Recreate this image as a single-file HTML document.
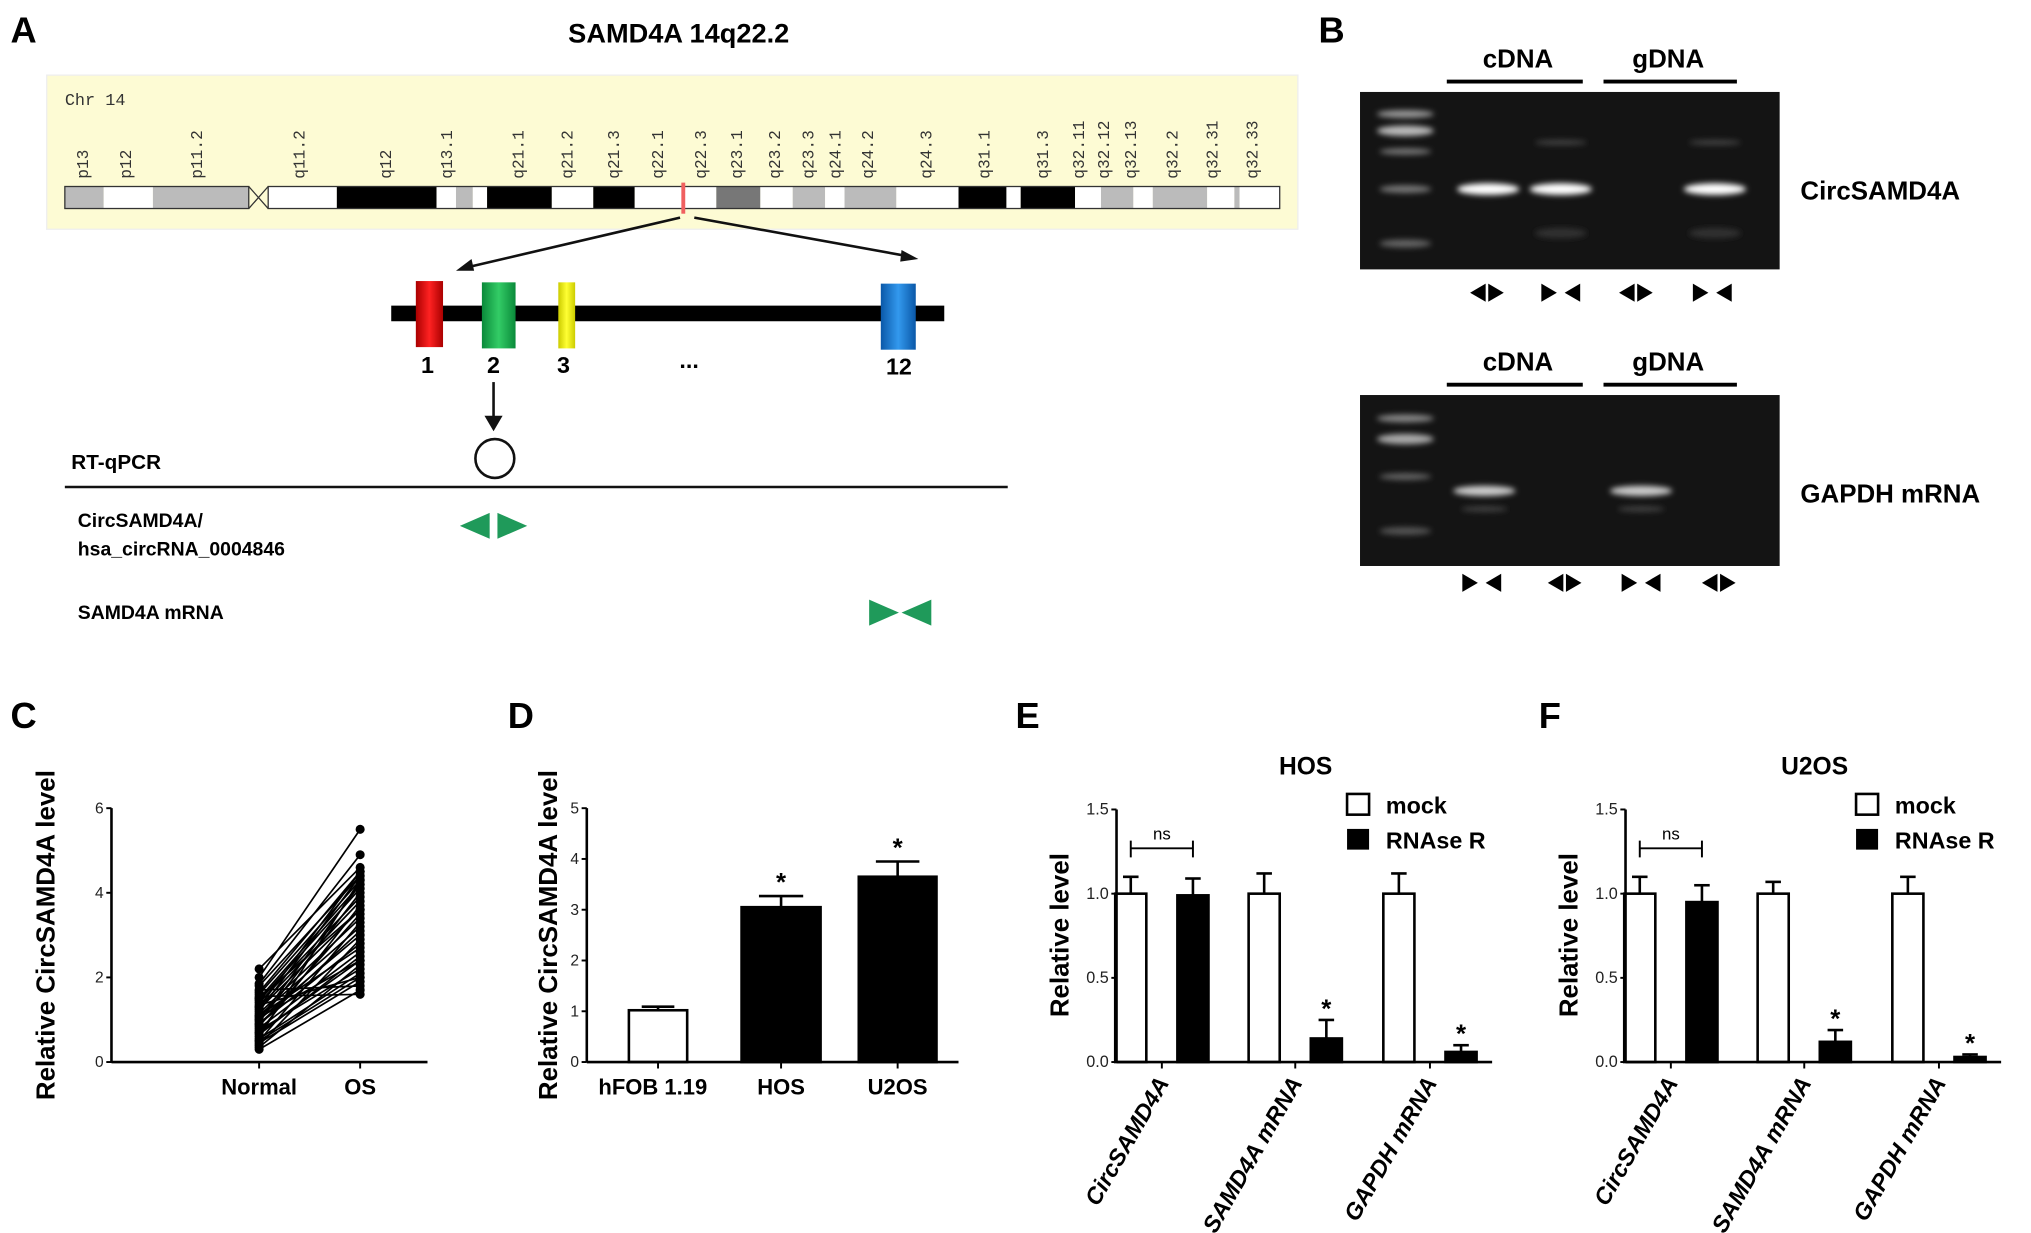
<!DOCTYPE html>
<html><head><meta charset="utf-8">
<style>
html,body{margin:0;padding:0;background:#fff;}
svg{display:block;}
text{font-family:"Liberation Sans",Arial,sans-serif;}
.b{font-weight:bold;}
.mono{font-family:"Liberation Mono",monospace;}
</style></head>
<body>
<svg id="fig" width="2031" height="1233" viewBox="0 0 1568 952" xmlns="http://www.w3.org/2000/svg">
<defs>
<filter id="blur" x="-20%" y="-100%" width="140%" height="300%"><feGaussianBlur stdDeviation="2.2"/></filter>
<linearGradient id="gRed" x1="0" x2="1"><stop offset="0" stop-color="#a00"/><stop offset=".5" stop-color="#f22"/><stop offset="1" stop-color="#a00"/></linearGradient>
<linearGradient id="gGreen" x1="0" x2="1"><stop offset="0" stop-color="#0a8a3a"/><stop offset=".5" stop-color="#3c6"/><stop offset="1" stop-color="#0a8a3a"/></linearGradient>
<linearGradient id="gYel" x1="0" x2="1"><stop offset="0" stop-color="#cc0"/><stop offset=".5" stop-color="#ff3"/><stop offset="1" stop-color="#cc0"/></linearGradient>
<linearGradient id="gBlue" x1="0" x2="1"><stop offset="0" stop-color="#0a58a8"/><stop offset=".5" stop-color="#39e"/><stop offset="1" stop-color="#0a58a8"/></linearGradient>
</defs>

<!-- Panel A -->
<text x="8" y="33" class="b" font-size="28">A</text>
<text x="524" y="33" class="b" font-size="21" text-anchor="middle">SAMD4A  14q22.2</text>
<rect x="36" y="58" width="966" height="119" fill="#fdfbd4" stroke="#eee"/>
<text x="50" y="81" class="mono" font-size="13" fill="#333">Chr 14</text>
<g id="chrom"></g>
<line x1="525" y1="168" x2="358" y2="207" stroke="#111" stroke-width="2"/>
<polygon points="352,209 364,200 366,209" fill="#111"/>
<line x1="536" y1="168" x2="702" y2="198" stroke="#111" stroke-width="2"/>
<polygon points="709,200 696,193 695,202" fill="#111"/>
<line x1="302" y1="242" x2="729" y2="242" stroke="#000" stroke-width="12"/>
<rect x="321" y="217" width="21" height="51" fill="url(#gRed)"/>
<rect x="372" y="218" width="26" height="51" fill="url(#gGreen)"/>
<rect x="431" y="218" width="13" height="51" fill="url(#gYel)"/>
<rect x="680" y="219" width="27" height="51" fill="url(#gBlue)"/>
<g class="b" font-size="18" text-anchor="middle">
<text x="330" y="288">1</text>
<text x="381" y="288">2</text>
<text x="435" y="288">3</text>
<text x="532" y="284">...</text>
<text x="694" y="289">12</text>
</g>
<line x1="381" y1="295" x2="381" y2="326" stroke="#111" stroke-width="2"/>
<polygon points="374,321 381,333 388,321" fill="#111"/>
<circle cx="382" cy="354" r="15" fill="none" stroke="#111" stroke-width="2"/>
<text x="55" y="362" class="b" font-size="16">RT-qPCR</text>
<line x1="50" y1="376" x2="778" y2="376" stroke="#111" stroke-width="2"/>
<text x="60" y="407" class="b" font-size="15">CircSAMD4A/</text>
<text x="60" y="429" class="b" font-size="15">hsa_circRNA_0004846</text>
<polygon points="355,406 378,396 378,416" fill="#1f9a5a"/>
<polygon points="407,406 384,396 384,416" fill="#1f9a5a"/>
<text x="60" y="478" class="b" font-size="15">SAMD4A mRNA</text>
<polygon points="694,473 671,463 671,483" fill="#1f9a5a"/>
<polygon points="696,473 719,463 719,483" fill="#1f9a5a"/>

<!-- Panel B -->
<text x="1018" y="33" class="b" font-size="28">B</text>
<g id="gels"></g>
<text x="1390" y="154" class="b" font-size="20">CircSAMD4A</text>
<text x="1390" y="388" class="b" font-size="20">GAPDH mRNA</text>

<!-- Panel letters C-F -->
<text x="8" y="562" class="b" font-size="28">C</text>
<text x="392" y="562" class="b" font-size="28">D</text>
<text x="784" y="562" class="b" font-size="28">E</text>
<text x="1188" y="562" class="b" font-size="28">F</text>
<g id="chartC"></g>
<g id="chartD"></g>
<g id="chartE"></g>
<g id="chartF"></g>
</svg>

<script>
// ---- Data ----
const cNormal = [2.2,2.0,1.85,1.8,1.7,1.65,1.6,1.55,1.5,1.45,1.4,1.35,1.3,1.25,1.2,1.15,1.1,1.05,1.0,0.95,0.9,0.85,0.8,0.75,0.7,0.65,0.6,0.55,0.5,0.45,0.4,0.35,0.3,1.1,0.9,1.3,0.7,1.5,0.5,1.0];
const cOS = [4.6,5.5,4.9,4.4,1.8,4.5,4.3,1.6,4.2,4.1,3.9,2.0,3.8,3.6,4.4,3.4,3.2,2.4,3.0,4.0,2.8,3.5,2.6,2.2,3.7,2.5,4.3,2.1,3.3,1.9,2.9,2.3,1.7,2.7,3.1,4.5,2.4,3.6,2.0,4.2];
const cCats = ["Normal","OS"];
const cTicks = [0,2,4,6];

const dCats = ["hFOB 1.19","HOS","U2OS"];
const dVals = [1.02,3.05,3.65];
const dErrs = [0.07,0.22,0.3];
const dTicks = [0,1,2,3,4,5];

const eCats = ["CircSAMD4A","SAMD4A mRNA","GAPDH mRNA"];
const eMock = [1.0,1.0,1.0];
const eMockErr = [0.1,0.12,0.12];
const eRnase = [0.99,0.14,0.06];
const eRnaseErr = [0.1,0.11,0.04];
const fMock = [1.0,1.0,1.0];
const fMockErr = [0.1,0.07,0.1];
const fRnase = [0.95,0.12,0.03];
const fRnaseErr = [0.1,0.07,0.015];
const efTicks = ["0.0","0.5","1.0","1.5"];

const NS = "http://www.w3.org/2000/svg";
function mk(parent, tag, attrs, txt){
  const el = document.createElementNS(NS, tag);
  for (const k in attrs) el.setAttribute(k, attrs[k]);
  if (txt !== undefined) el.textContent = txt;
  parent.appendChild(el);
  return el;
}

// ---- Chromosome ----
(function(){
  const g = document.getElementById('chrom');
  const segs = [[50,80,'#bbb'],[80,118,'#fff'],[118,192,'#bbb'],[207,260,'#fff'],[260,337,'#000'],[337,352,'#fff'],[352,365,'#bbb'],[365,376,'#fff'],[376,426,'#000'],[426,458,'#fff'],[458,490,'#000'],[490,553,'#fff'],[553,587,'#777'],[587,612,'#fff'],[612,637,'#bbb'],[637,652,'#fff'],[652,692,'#bbb'],[692,740,'#fff'],[740,777,'#000'],[777,788,'#fff'],[788,830,'#000'],[830,850,'#fff'],[850,875,'#bbb'],[875,890,'#fff'],[890,932,'#bbb'],[932,953,'#fff'],[953,957,'#bbb'],[957,988,'#fff']];
  segs.forEach(s=>{
    const r = mk(g,'rect',{x:s[0],y:144,width:s[1]-s[0],height:17,fill:s[2]});
    
    
  });
  mk(g,'rect',{x:50,y:144,width:142,height:17,fill:'none',stroke:'#333','stroke-width':1});
  mk(g,'rect',{x:207,y:144,width:781,height:17,fill:'none',stroke:'#333','stroke-width':1});
  mk(g,'path',{d:'M192,144 L207,161 M192,161 L207,144',stroke:'#333',fill:'none'});
  const red = mk(g,'rect',{x:526,y:141,width:3,height:24,fill:'#f06060'});
  
  
  const labs = [['p13',64],['p12',97],['p11.2',152],['q11.2',231],['q12',298],['q13.1',345],['q21.1',400],['q21.2',438],['q21.3',474],['q22.1',508],['q22.3',541],['q23.1',569],['q23.2',598],['q23.3',624],['q24.1',645],['q24.2',670],['q24.3',715],['q31.1',760],['q31.3',805],['q32.11',833],['q32.12',852],['q32.13',873],['q32.2',905],['q32.31',936],['q32.33',967]];
  labs.forEach(l=>{
    const t = mk(g,'text',{x:0,y:0,transform:`translate(${l[1]+4},138) rotate(-90)`,'font-size':12.5,fill:'#333',class:'mono'},l[0]);
    
    
  });
})();

// ---- Gels ----
(function(){
  const g = document.getElementById('gels');
  function tri(cx,cy,dir){
    const w=12,h=7;
    const pts = dir>0 ? `${cx-w/2},${cy-h} ${cx+w/2},${cy} ${cx-w/2},${cy+h}` : `${cx+w/2},${cy-h} ${cx-w/2},${cy} ${cx+w/2},${cy+h}`;
    mk(g,'polygon',{points:pts,fill:'#000'});
  }
  function pair(cx,cy,type){
    if(type==='out'){tri(cx-7,cy,-1);tri(cx+7,cy,1);} else {tri(cx-9,cy,1);tri(cx+9,cy,-1);}
  }
  function gel(y0,h,bands,arrows,ay,labY){
    mk(g,'text',{x:1172,y:labY,'text-anchor':'middle','font-size':20,class:'b'},'cDNA');
    mk(g,'text',{x:1288,y:labY,'text-anchor':'middle','font-size':20,class:'b'},'gDNA');
    mk(g,'line',{x1:1117,y1:labY+11,x2:1222,y2:labY+11,stroke:'#000','stroke-width':3});
    mk(g,'line',{x1:1238,y1:labY+11,x2:1341,y2:labY+11,stroke:'#000','stroke-width':3});
    const r = mk(g,'rect',{x:1050,y:y0,width:324,height:h,fill:'#141414'});
    
    
    bands.forEach(b=>{
      const e = mk(g,'ellipse',{cx:b[0],cy:b[1],rx:b[2],ry:b[3],fill:b[4],filter:'url(#blur)'});
      
      
    });
    arrows.forEach(a=>pair(a[0],ay,a[1]));
  }
  gel(71,137,[[1085,88,22,3,'#999'],[1085,101,22,4,'#bbb'],[1085,117,20,2.5,'#777'],[1085,146,20,3,'#777'],[1085,188,20,3,'#666'],
    [1149,146,24,4.5,'#fff'],[1205,146,24,4.5,'#fff'],[1324,146,24,4.5,'#fff'],
    [1205,110,20,2,'#444'],[1205,180,20,4,'#333'],[1324,110,20,2,'#444'],[1324,180,20,4,'#333']],
    [[1148,'out'],[1205,'in'],[1263,'out'],[1322,'in']],226,52);
  gel(305,132,[[1085,323,22,3,'#888'],[1085,339,22,4,'#aaa'],[1085,368,20,2.5,'#666'],[1085,410,20,3,'#555'],
    [1146,379,24,4,'#ccc'],[1267,379,24,4,'#ccc'],[1146,393,18,2,'#444'],[1267,393,18,2,'#444']],
    [[1144,'in'],[1208,'out'],[1267,'in'],[1327,'out']],450,286);
})();

// ---- Common axis helpers ----
function yAxis(g,x,y0,y1,ticks,vmax,fmt,fs){
  mk(g,'line',{x1:x,y1:y0,x2:x,y2:y1,stroke:'#000','stroke-width':2});
  ticks.forEach(t=>{
    const v = parseFloat(t);
    const y = y0-(y0-y1)*v/vmax;
    mk(g,'line',{x1:x-4,y1:y,x2:x,y2:y,stroke:'#000','stroke-width':1.5});
    const tx = mk(g,'text',{x:x-6,y:y+4,'text-anchor':'end','font-size':fs,fill:'#222'},String(t));
    
    
  });
}

// ---- Chart C ----
(function(){
  const g = document.getElementById('chartC');
  const X0=86, Y0=820, Y1=624, VMAX=6;
  const xs=[200,278];
  const ys = v=>Y0-(Y0-Y1)*v/VMAX;
  yAxis(g,X0,Y0,Y1,cTicks,VMAX,null,12);
  mk(g,'line',{x1:X0,y1:Y0,x2:330,y2:Y0,stroke:'#000','stroke-width':2});
  cCats.forEach((c,i)=>{
    mk(g,'line',{x1:xs[i],y1:Y0,x2:xs[i],y2:Y0+5,stroke:'#000','stroke-width':1.5});
    const t = mk(g,'text',{x:xs[i],y:845,'text-anchor':'middle','font-size':17,class:'b'},c);
    
    
  });
  cNormal.forEach((v,i)=>{
    const l = mk(g,'line',{x1:xs[0],y1:ys(v),x2:xs[1],y2:ys(cOS[i]),stroke:'#000','stroke-width':1.3});
    
    
    const p1 = mk(g,'circle',{cx:xs[0],cy:ys(v),r:3.5,fill:'#000'});
    
    
    const p2 = mk(g,'circle',{cx:xs[1],cy:ys(cOS[i]),r:3.5,fill:'#000'});
    
    
  });
  const t = mk(g,'text',{x:0,y:0,transform:'translate(42,722) rotate(-90)','text-anchor':'middle','font-size':20,class:'b'},'Relative CircSAMD4A level');
  
  
})();

// ---- Chart D ----
(function(){
  const g = document.getElementById('chartD');
  const X0=453, Y0=820, Y1=624, VMAX=5;
  const xs=[508,603,693], ws=[45,61,60];
  const ys = v=>Y0-(Y0-Y1)*v/VMAX;
  dCats.forEach((c,i)=>{
    const top=ys(dVals[i]), et=ys(dVals[i]+dErrs[i]);
    mk(g,'line',{x1:xs[i],y1:top,x2:xs[i],y2:et,stroke:'#000','stroke-width':2});
    mk(g,'line',{x1:xs[i]-ws[i]*0.28,y1:et,x2:xs[i]+ws[i]*0.28,y2:et,stroke:'#000','stroke-width':2});
    const b = mk(g,'rect',{x:xs[i]-ws[i]/2,y:top,width:ws[i],height:Y0-top,fill:i===0?'#fff':'#000',stroke:'#000','stroke-width':2});
    
    
    if(i>0){
      const s = mk(g,'text',{x:xs[i],y:et-4,'text-anchor':'middle','font-size':20,class:'b'},'*');
      
      
    }
    mk(g,'line',{x1:xs[i],y1:Y0,x2:xs[i],y2:Y0+5,stroke:'#000','stroke-width':1.5});
    const t = mk(g,'text',{x:xs[i]+(i===0?-4:0),y:845,'text-anchor':'middle','font-size':17,class:'b'},c);
    
    
  });
  yAxis(g,X0,Y0,Y1,dTicks,VMAX,null,12);
  mk(g,'line',{x1:X0,y1:Y0,x2:740,y2:Y0,stroke:'#000','stroke-width':2});
  const t = mk(g,'text',{x:0,y:0,transform:'translate(430,722) rotate(-90)','text-anchor':'middle','font-size':20,class:'b'},'Relative CircSAMD4A level');
  
  
})();

// ---- Charts E & F ----
function rnaseChart(id,X0,title,mock,mockErr,rn,rnErr){
  const g = document.getElementById(id);
  const Y0=820, Y1=625, VMAX=1.5;
  const ys = v=>Y0-(Y0-Y1)*v/VMAX;
  const groups=[X0+35,X0+138,X0+242], bw=24;
  const tt = mk(g,'text',{x:X0+146,y:598,'text-anchor':'middle','font-size':19,class:'b'},title);
  
  
  function bar(cx,v,e,fill,name){
    const top=ys(v), et=ys(v+e);
    mk(g,'line',{x1:cx,y1:top,x2:cx,y2:et,stroke:'#000','stroke-width':2});
    mk(g,'line',{x1:cx-6,y1:et,x2:cx+6,y2:et,stroke:'#000','stroke-width':2});
    const b = mk(g,'rect',{x:cx-bw/2,y:top,width:bw,height:Y0-top,fill:fill,stroke:'#000','stroke-width':2});
    
    
    return et;
  }
  eCats.forEach((c,i)=>{
    bar(groups[i]-24,mock[i],mockErr[i],'#fff','bar-mock');
    const et = bar(groups[i]+24,rn[i],rnErr[i],'#000','bar-rnase-r');
    if(i>0){
      const s = mk(g,'text',{x:groups[i]+24,y:et-2,'text-anchor':'middle','font-size':20,class:'b'},'*');
      
      
    }
    mk(g,'line',{x1:groups[i],y1:Y0,x2:groups[i],y2:Y0+5,stroke:'#000','stroke-width':1.5});
    const t = mk(g,'text',{x:0,y:0,transform:`translate(${groups[i]+6},${Y0+16}) rotate(-60)`,'text-anchor':'end','font-size':18,'font-style':'italic',class:'b'},c);
    
    
  });
  yAxis(g,X0,Y0,Y1,efTicks,VMAX,null,12.5);
  mk(g,'line',{x1:X0,y1:Y0,x2:X0+290,y2:Y0,stroke:'#000','stroke-width':2});
  const ns = mk(g,'path',{d:`M${groups[0]-24},649 V662 M${groups[0]-24},655 H${groups[0]+24} M${groups[0]+24},649 V662`,stroke:'#000',fill:'none','stroke-width':1.5});
  
  
  const nst = mk(g,'text',{x:groups[0],y:648,'text-anchor':'middle','font-size':13},'ns');
  
  
  const lx=X0+178;
  const l1 = mk(g,'rect',{x:lx,y:613,width:17,height:16,fill:'#fff',stroke:'#000','stroke-width':2});
  
  
  const lt1 = mk(g,'text',{x:lx+30,y:628,'font-size':18,class:'b'},'mock');
  
  
  const l2 = mk(g,'rect',{x:lx,y:640,width:17,height:16,fill:'#000'});
  
  
  const lt2 = mk(g,'text',{x:lx+30,y:655,'font-size':18,class:'b'},'RNAse R');
  
  
  const yt = mk(g,'text',{x:0,y:0,transform:`translate(${X0-37},722) rotate(-90)`,'text-anchor':'middle','font-size':20,class:'b'},'Relative level');
  
  
}
rnaseChart('chartE',862,'HOS',eMock,eMockErr,eRnase,eRnaseErr);
rnaseChart('chartF',1255,'U2OS',fMock,fMockErr,fRnase,fRnaseErr);
</script>
</body></html>
